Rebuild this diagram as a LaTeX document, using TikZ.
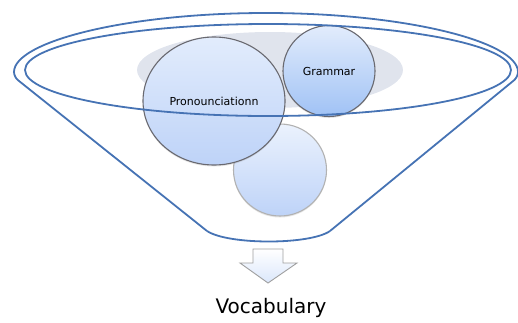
\documentclass[tikz,border=0pt]{standalone}
\usepackage{fontspec}
\setmainfont{DejaVu Sans}
\usepackage{tikz}
\usetikzlibrary{shapes.geometric,shadows}
\usepackage{xcolor}
\definecolor{funnelblue}{RGB}{70,115,180}
\definecolor{backgrey}{RGB}{224,228,237}
\definecolor{bubbletop}{RGB}{226,236,252}
\definecolor{bubblebot}{RGB}{190,211,248}
\definecolor{bubbledeep}{RGB}{160,194,245}
\definecolor{bubbleline}{RGB}{105,105,112}

\begin{document}
\begin{tikzpicture}[x=1pt, y=-1pt,
    funnel/.style={draw=funnelblue, line width=1.8pt},
    bubble/.style={ellipse, draw=bubbleline, line width=1.1pt, inner sep=0pt,
                   top color=bubbletop, bottom color=bubblebot, font=\fontsize{11}{13}\selectfont,
                   drop shadow={opacity=0.2, shadow xshift=0pt, shadow yshift=-1.5pt}},
    downarr/.style={draw=gray!75, line width=0.9pt, top color=white, bottom color=bubbletop!80!bubblebot}
]
\useasboundingbox (0,0) rectangle (518,322);
\fill[backgrey] (270,70) ellipse[x radius=133, y radius=38];
\node[bubble, draw=gray!60, minimum width=93pt, minimum height=92pt,
      top color=bubbletop!70!white] (blank) at (280,170) {};
\node[bubble, minimum width=142pt, minimum height=128pt] (pron) at (214,101) {Pronounciationn};
\node[bubble, minimum width=92pt, minimum height=91pt, bottom color=bubbledeep] (gram) at (329,71) {Grammar};
\draw[funnel] (268,70) ellipse[x radius=243, y radius=46];
\draw[funnel, rounded corners=5pt] (207,231) -- (14,77)
    arc[start angle=180, end angle=360, x radius=252, y radius=64] -- (330,231);
\draw[funnel] (207,231) .. controls (228,245) and (310,245) .. (330,231);
\draw[downarr] (253,249) -- (283,249) -- (283,263) -- (297,263) -- (268,283)
    -- (240,263) -- (253,263) -- cycle;
\node[anchor=base, font=\fontsize{20}{24}\selectfont, inner sep=0pt] (vocab) at (271,313) {Vocabulary};
\end{tikzpicture}
\end{document}
